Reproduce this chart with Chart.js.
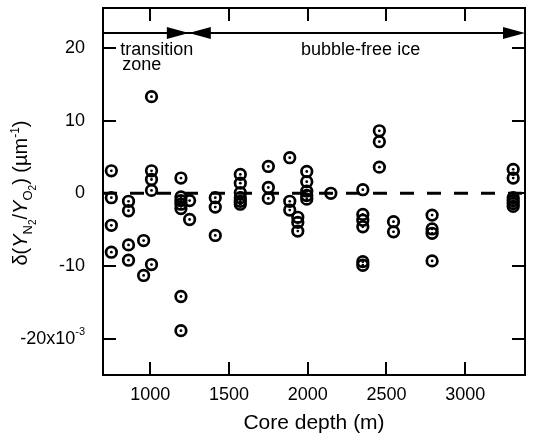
<!DOCTYPE html>
<html>
<head>
<meta charset="utf-8">
<script src="https://cdn.jsdelivr.net/npm/chart.js@4.4.1/dist/chart.umd.min.js"></script>
<style>
html, body { margin: 0; padding: 0; background: #fff; }
</style>
</head>
<body>
<canvas id="chart" width="533" height="441"></canvas>
<script>
// core depth (m) and delta(Y_N2/Y_O2) in units of 1e-3 per um
const depth = [
  753, 753, 753, 753,
  862, 862, 862, 862,
  958, 958,
  1008, 1008, 1008, 1008, 1008,
  1195, 1195, 1195, 1195, 1195, 1195, 1195,
  1250, 1250,
  1413, 1413, 1413,
  1572, 1572, 1572, 1572, 1572, 1572,
  1750, 1750, 1750,
  1886, 1886, 1886,
  1937, 1937, 1937,
  1994, 1994, 1994, 1994, 1994,
  2147,
  2350, 2350, 2350, 2350, 2350, 2350,
  2455, 2455, 2455,
  2545, 2545,
  2790, 2790, 2790, 2790,
  3305, 3305, 3305, 3305, 3305, 3305
];
const delta = [
  3.1, -0.6, -4.4, -8.1,
  -1.1, -2.4, -7.1, -9.2,
  -6.5, -11.3,
  13.3, 3.1, 1.9, 0.4, -9.8,
  2.1, -0.5, -1.0, -1.5, -2.1, -14.2, -18.9,
  -1.0, -3.6,
  -0.6, -1.9, -5.8,
  2.6, 1.4, 0.1, -0.6, -1.1, -1.5,
  3.7, 0.8, -0.7,
  4.9, -1.1, -2.3,
  -3.3, -4.0, -5.2,
  3.0, 1.6, 0.3, -0.3, -0.8,
  0.0,
  0.5, -2.9, -3.7, -4.6, -9.4, -9.9,
  8.6, 7.1, 3.6,
  -3.9, -5.3,
  -3.0, -4.9, -5.5, -9.3,
  3.3, 2.1, -0.6, -1.0, -1.4, -1.8
];

const xTicks = [1000, 1500, 2000, 2500, 3000];
const yTicks = [-20, -10, 0, 10, 20];
const xRange = [700, 3380];
const yRange = [-25, 25.5];
const zeroLevel = 0;
const zoneEdge = 1245;   // end of transition zone (m)
const arrowLevel = 22;

const FONT = '"Liberation Sans", Arial, sans-serif';

const points = depth.map((d, i) => ({ x: d, y: delta[i] }));

function arrowHead(ctx, tipX, yy, dir) {
  ctx.beginPath();
  ctx.moveTo(tipX, yy);
  ctx.lineTo(tipX - dir * 22, yy - 6);
  ctx.lineTo(tipX - dir * 22, yy + 6);
  ctx.closePath();
  ctx.fill();
}

const framePlugin = {
  id: 'frame',
  afterDraw(chart) {
    const { ctx, chartArea: a } = chart;
    const x = chart.scales.x, y = chart.scales.y;
    ctx.save();
    ctx.strokeStyle = '#000';
    ctx.fillStyle = '#000';
    ctx.lineWidth = 2;
    ctx.strokeRect(a.left, a.top, a.right - a.left, a.bottom - a.top);

    // inward ticks on all four sides
    ctx.beginPath();
    xTicks.forEach(v => {
      const px = Math.round(x.getPixelForValue(v));
      ctx.moveTo(px, a.bottom); ctx.lineTo(px, a.bottom - 13);
      ctx.moveTo(px, a.top); ctx.lineTo(px, a.top + 13);
    });
    yTicks.forEach(v => {
      const py = Math.round(y.getPixelForValue(v));
      ctx.moveTo(a.left, py); ctx.lineTo(a.left + 13, py);
      ctx.moveTo(a.right, py); ctx.lineTo(a.right - 13, py);
    });
    ctx.stroke();

    // y tick labels
    ctx.textBaseline = 'middle';
    ctx.textAlign = 'right';
    yTicks.forEach(v => {
      const py = y.getPixelForValue(v);
      if (v === -20) {
        ctx.font = '11px ' + FONT;
        ctx.fillText('-3', 85, py - 7);
        const w = ctx.measureText('-3').width;
        ctx.font = '18px ' + FONT;
        ctx.fillText('-20x10', 85 - w, py);
      } else {
        ctx.font = '18px ' + FONT;
        ctx.fillText(String(v), 85, py);
      }
    });

    // zone arrows
    const ay = Math.round(y.getPixelForValue(arrowLevel));
    const ex = x.getPixelForValue(zoneEdge);
    ctx.beginPath();
    ctx.moveTo(a.left, ay); ctx.lineTo(a.right - 10, ay);
    ctx.stroke();
    arrowHead(ctx, ex, ay, 1);
    arrowHead(ctx, ex, ay, -1);
    arrowHead(ctx, a.right, ay, 1);

    // zone labels
    ctx.textBaseline = 'alphabetic';
    ctx.textAlign = 'center';
    ctx.font = '18px ' + FONT;
    ctx.fillText('transition', x.getPixelForValue(1041), y.getPixelForValue(19.0));
    ctx.fillText('zone', x.getPixelForValue(946), y.getPixelForValue(16.9));
    ctx.fillText('bubble-free ice', x.getPixelForValue(2336), y.getPixelForValue(19.0));

    // x title
    ctx.font = '21px ' + FONT;
    ctx.fillText('Core depth (m)', (a.left + a.right) / 2, 429);

    // y title with sub/superscripts
    const parts = [
      { t: '\u03b4(', f: '20px ', dy: 0 },
      { t: 'Y', f: 'italic 20px ', dy: 0 },
      { t: 'N', f: '13px ', dy: 5 },
      { t: '2', f: '10px ', dy: 9 },
      { t: '/', f: '20px ', dy: 0 },
      { t: 'Y', f: 'italic 20px ', dy: 0 },
      { t: 'O', f: '13px ', dy: 5 },
      { t: '2', f: '10px ', dy: 9 },
      { t: ') (\u00b5m', f: '20px ', dy: 0 },
      { t: '-1', f: '12px ', dy: -8 },
      { t: ')', f: '20px ', dy: 0 }
    ];
    ctx.translate(27, 193);
    ctx.rotate(-Math.PI / 2);
    ctx.textAlign = 'left';
    let total = 0;
    parts.forEach(p => { ctx.font = p.f + FONT; p.w = ctx.measureText(p.t).width; total += p.w; });
    let cx = -total / 2;
    parts.forEach(p => {
      ctx.font = p.f + FONT;
      ctx.fillText(p.t, cx, p.dy);
      cx += p.w;
    });
    ctx.restore();
  }
};

new Chart(document.getElementById('chart'), {
  type: 'scatter',
  data: {
    datasets: [
      {
        type: 'line',
        data: [{ x: xRange[0], y: zeroLevel }, { x: xRange[1], y: zeroLevel }],
        borderColor: '#000',
        borderWidth: 3,
        borderDash: [14, 13],
        pointRadius: 0,
        order: 3
      },
      {
        data: points,
        pointRadius: 5.3,
        pointBorderWidth: 2.7,
        pointBorderColor: '#000',
        pointBackgroundColor: 'rgba(0,0,0,0)',
        order: 2
      },
      {
        data: points,
        pointRadius: 1.4,
        pointBorderWidth: 0,
        pointBackgroundColor: '#000',
        order: 1
      }
    ]
  },
  options: {
    responsive: false,
    animation: false,
    layout: { padding: { top: 2, right: 4, left: 0, bottom: 0 } },
    plugins: { legend: { display: false }, tooltip: { enabled: false } },
    scales: {
      x: {
        type: 'linear',
        min: xRange[0],
        max: xRange[1],
        grid: { display: false, drawTicks: false },
        border: { display: false },
        afterBuildTicks: s => { s.ticks = xTicks.map(v => ({ value: v })); },
        afterFit: s => { s.height = 66; },
        ticks: {
          color: '#000',
          padding: 9,
          maxRotation: 0,
          font: { family: FONT, size: 18 },
          callback: v => String(v)
        }
      },
      y: {
        type: 'linear',
        min: yRange[0],
        max: yRange[1],
        grid: { display: false, drawTicks: false },
        border: { display: false },
        afterFit: s => { s.width = 103; },
        ticks: { display: false }
      }
    }
  },
  plugins: [framePlugin]
});
</script>
</body>
</html>
